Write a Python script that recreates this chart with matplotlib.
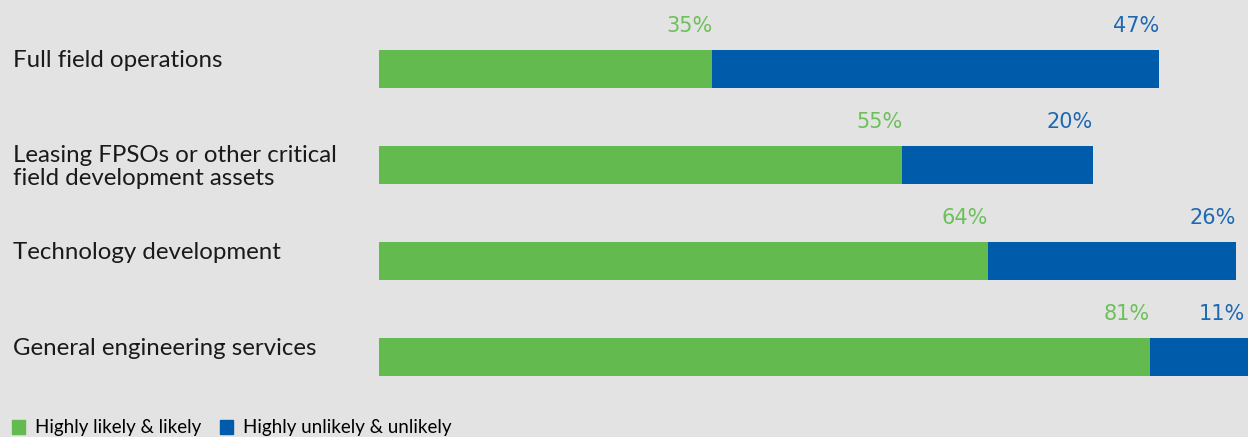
import matplotlib
matplotlib.use("Agg")
import matplotlib.pyplot as plt
import matplotlib.transforms as mtrans
from matplotlib.patches import Patch

categories = ["Full field operations",
              "Leasing FPSOs or other critical\nfield development assets",
              "Technology development",
              "General engineering services"]
likely = [35, 55, 64, 81]
unlikely = [47, 20, 26, 11]
legend_labels = ["Highly likely & likely", "Highly unlikely & unlikely"]

green = "#63ba4f"
blue = "#005baa"
green_txt = "#6cc05a"
blue_txt = "#1f68b2"
bg = "#e3e3e3"

fig = plt.figure(figsize=(12.48, 4.37), dpi=100)
fig.patch.set_facecolor(bg)
ax = fig.add_axes([379 / 1248, 32 / 437, 1 - 379 / 1248, 384 / 437])
ax.set_facecolor("none")

y = list(range(len(categories)))
ax.barh(y, likely, height=0.396, color=green)
ax.barh(y, unlikely, left=likely, height=0.396, color=blue)
ax.set_xlim(0, 91.3)
ax.set_ylim(3.5, -0.5)
ax.axis("off")

# percentage labels sit above the bars, right-aligned to segment ends
xmax = ax.get_xlim()[1]
for i in y:
    ax.text(likely[i], i - 0.445, f"{likely[i]}%", ha="right", va="center",
            color=green_txt, fontsize=15, fontfamily="DejaVu Sans")
    end = min(likely[i] + unlikely[i], xmax - 0.3)
    ax.text(end, i - 0.445, f"{unlikely[i]}%", ha="right", va="center",
            color=blue_txt, fontsize=15, fontfamily="DejaVu Sans")

tr = mtrans.blended_transform_factory(fig.transFigure, ax.transData)
for i, cat in enumerate(categories):
    if "\n" in cat:
        ax.text(13 / 1248, i + 0.02, cat, transform=tr, ha="left", va="center",
                fontsize=17.3, fontfamily="Lato", color="#1a1a1a", linespacing=1.15)
    else:
        ax.text(13 / 1248, i - 0.02, cat, transform=tr, ha="left", va="baseline",
                fontsize=17.3, fontfamily="Lato", color="#1a1a1a")

handles = [Patch(color=green), Patch(color=blue)]
fig.legend(handles, legend_labels, loc="center left",
           bbox_to_anchor=(12 / 1248, 9 / 437), ncol=2, frameon=False,
           prop={"family": "Lato", "size": 13.5},
           handlelength=0.7, handleheight=0.7, handletextpad=0.55,
           columnspacing=0.95, borderpad=0, borderaxespad=0)

fig.savefig("out.png", dpi=100, facecolor=bg)
